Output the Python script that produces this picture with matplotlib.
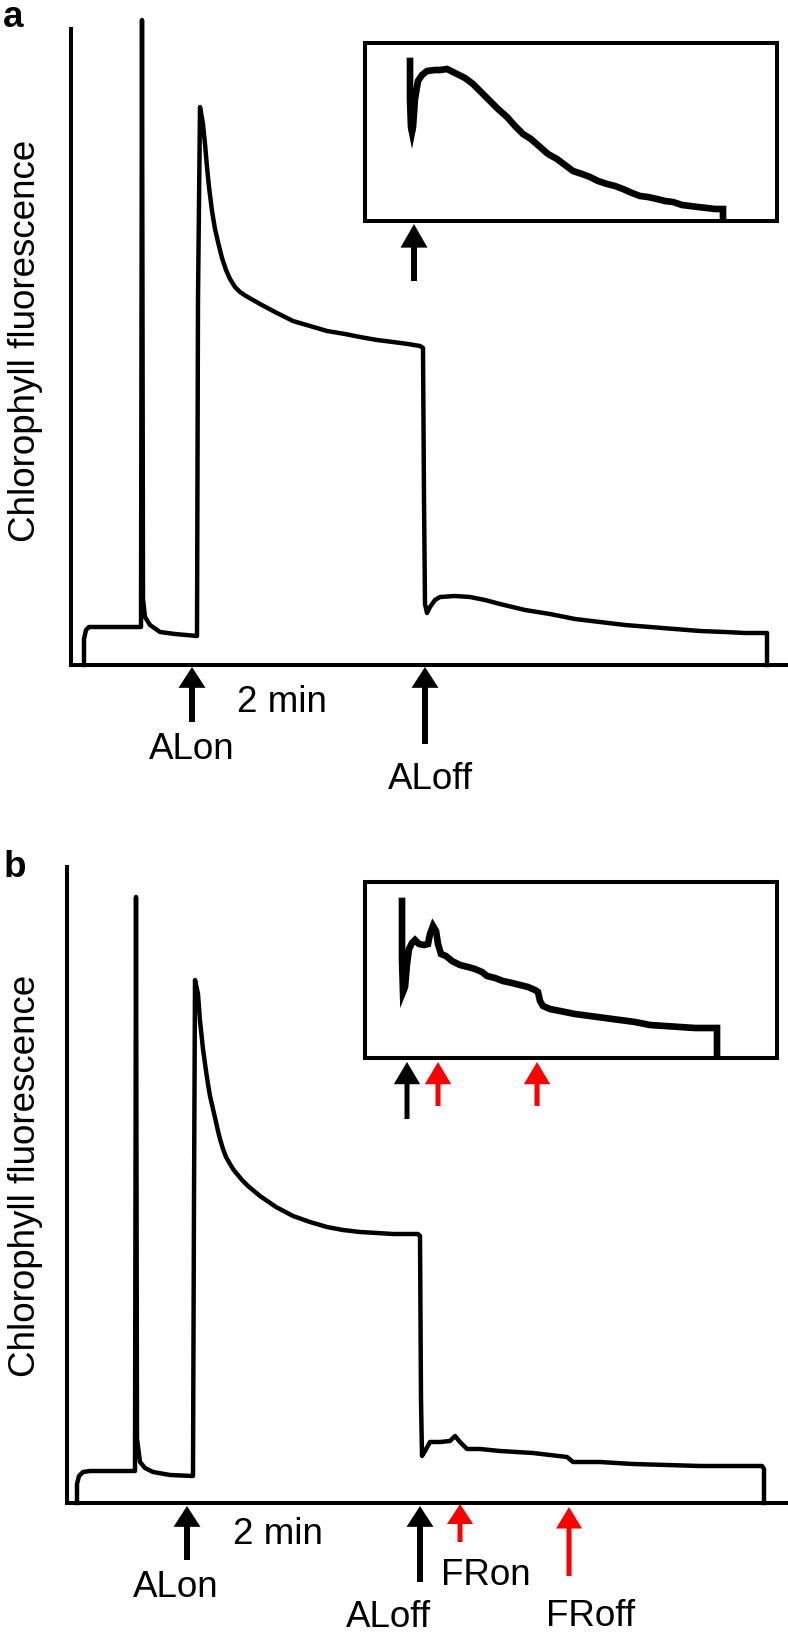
import matplotlib
matplotlib.use("Agg")
import matplotlib.pyplot as plt

plt.rcParams['font.family'] = ['Liberation Sans', 'DejaVu Sans']

# ---------------- data (time in s, fluorescence in a.u.) ----------------
# Panel a, main trace
ta = [13, 13, 15, 18, 70, 71, 72, 74, 79, 89, 104, 126, 127, 129, 132, 134, 136, 138, 141,
      144, 147, 151, 155, 159, 164, 169, 175, 182, 189, 204, 222, 239, 256, 274, 289, 306,
      322, 337, 349, 352, 353, 354, 356, 359, 364, 369, 384, 399, 414, 429, 454, 479, 504,
      529, 554, 579, 604, 629, 654, 674, 696, 696]
fa = [0, 26, 35, 38, 38, 645, 66, 48, 40, 33, 31, 29, 366, 558, 541, 521, 498, 478, 454,
      436, 423, 407, 395, 386, 378, 373, 369, 365, 361, 353, 344, 339, 334, 331, 328, 325,
      323, 321, 319, 317, 166, 61, 52, 58, 65, 68, 69, 68, 65, 61, 55, 51, 46,
      43, 40, 38, 36, 34, 33, 32, 32, 0]

# Panel a, inset trace (post-illumination rise)
ta_in = [45, 45, 46, 47, 48, 50, 53, 57, 62, 70, 75, 82, 92, 100, 108, 115, 125, 133, 142,
         150, 158, 166, 175, 183, 192, 200, 208, 217, 225, 233, 242, 250, 258, 267, 275,
         283, 292, 300, 308, 317, 325, 333, 342, 350, 358, 358]
fa_in = [160, 122, 94, 89, 94, 122, 140, 146, 150, 151, 151, 152, 147, 143, 137, 130, 120,
         112, 104, 95, 87, 82, 74, 67, 62, 56, 50, 47, 44, 40, 37, 35, 32, 28, 25, 24, 22,
         20, 19, 16, 15, 14, 13, 12, 12, 5]

# Panel b, main trace
tb = [10, 10, 12, 16, 23, 68, 69, 70, 73, 78, 86, 103, 126, 127, 128, 131, 133, 136, 139,
      141, 143, 146, 149, 151, 153, 156, 159, 163, 166, 170, 175, 181, 193, 209, 226, 243,
      260, 276, 293, 310, 326, 351, 353, 354, 355, 358, 363, 373, 383, 388, 393, 400, 413,
      433, 466, 500, 506, 533, 566, 600, 633, 666, 695, 697, 697]
fb = [0, 19, 27, 31, 32, 32, 606, 64, 41, 35, 31, 28, 27, 304, 523, 509, 482, 454, 432,
      419, 407, 394, 381, 372, 364, 354, 346, 339, 334, 329, 323, 317, 307, 296, 287, 281,
      276, 273, 271, 270, 269, 269, 267, 104, 47, 52, 61, 61, 62, 67, 61, 54, 54,
      52, 50, 46, 41, 41, 39, 38, 37, 37, 37, 34, 0]

# Panel b, inset trace
tb_in = [37, 37, 38, 40, 42, 44, 47, 50, 54, 59, 63, 65, 68, 71, 73, 76, 81, 87, 95, 103,
         110, 117, 122, 130, 138, 147, 155, 163, 170, 173, 175, 178, 185, 195, 210, 225,
         240, 255, 270, 285, 300, 315, 330, 345, 352, 352]
fb_in = [157, 99, 66, 71, 94, 109, 115, 118, 114, 113, 114, 124, 132, 127, 114, 104, 102,
         97, 93, 91, 89, 86, 82, 80, 77, 75, 73, 71, 68, 66, 57, 52, 49, 47, 44, 42, 40,
         38, 36, 33, 32, 31, 30, 30, 30, 2]

# Event markers (times of light switching)
events_a = {"ALon": 121, "ALoff": 354}
events_b = {"ALon": 120, "ALoff": 353, "FRon": 393, "FRoff": 502}
inset_events_a = [49]
inset_events_b = [42, 73, 172]
scale_label = "2 min"
ylabel = "Chlorophyll fluorescence"

# ---------------- figure ----------------
W, H = 788, 1633
fig = plt.figure(figsize=(W / 100, H / 100), dpi=100)

FS = 26.5
LW = 2.9
TLW = 3.2
black = "black"
red = "#ff0000"


def fx(px):
    return px / W


def fy(py):
    return 1 - py / H


def style_main(ax, xmax):
    ax.set_xlim(0, xmax)
    ax.set_ylim(0, 636)
    for s in ("top", "right"):
        ax.spines[s].set_visible(False)
    for s in ("left", "bottom"):
        ax.spines[s].set_linewidth(LW)
        ax.spines[s].set_capstyle("projecting")
    ax.set_xticks([])
    ax.set_yticks([])
    ax.patch.set_alpha(0)


def style_inset(ax, ymax):
    ax.set_xlim(0, 412)
    ax.set_ylim(0, ymax)
    for s in ax.spines.values():
        s.set_linewidth(LW)
        s.set_capstyle("projecting")
    ax.set_xticks([])
    ax.set_yticks([])


def arrow(ax, t, tip, tail, color, w=4.3, hw=19.4, hl=15.0):
    ax.annotate("", xy=(t, tip), xytext=(t, tail), xycoords="data",
                arrowprops=dict(facecolor=color, edgecolor="none", width=w,
                                headwidth=hw, headlength=hl, shrink=0),
                annotation_clip=False)


def label(ax, t, y, s, ha="center"):
    ax.text(t, y, s, fontsize=FS, ha=ha, va="center", clip_on=False)


# ---- Panel a ----
axa = fig.add_axes([fx(71), fy(666), fx(717), 636 / H])
style_main(axa, 717)
axa.plot(ta, fa, color=black, lw=TLW, clip_on=False, solid_joinstyle="round")
arrow(axa, events_a["ALon"], -2, -57, black)
arrow(axa, events_a["ALoff"], -2, -79, black)
label(axa, 121, -84, "ALon")
label(axa, 359, -114, "ALoff")
label(axa, 166, -37, scale_label, ha="left")

axa_in = fig.add_axes([fx(365), fy(222), fx(412), 178 / H])
style_inset(axa_in, 178)
axa_in.plot(ta_in, fa_in, color=black, lw=4.8, clip_on=False, solid_joinstyle="miter")
arrow(axa_in, inset_events_a[0], -3, -60, black, w=4.3, hw=19.4, hl=17.0)

# ---- Panel b ----
axb = fig.add_axes([fx(67), fy(1504), fx(721), 636 / H])
style_main(axb, 721)
axb.plot(tb, fb, color=black, lw=TLW, clip_on=False, solid_joinstyle="round")
arrow(axb, events_b["ALon"], -3, -57, black)
arrow(axb, events_b["ALoff"], -3, -79, black)
arrow(axb, events_b["FRon"], -1, -39, red, w=3.6, hw=18.7, hl=14.4)
arrow(axb, events_b["FRoff"], -4, -73, red, w=3.6, hw=18.7, hl=15.5)
label(axb, 109, -84, "ALon")
label(axb, 321, -114, "ALoff")
label(axb, 419, -72, "FRon")
label(axb, 524, -113, "FRoff")
label(axb, 166, -31, scale_label, ha="left")

axb_in = fig.add_axes([fx(365), fy(1059), fx(412), 176 / H])
style_inset(axb_in, 176)
axb_in.plot(tb_in, fb_in, color=black, lw=4.8, clip_on=False, solid_joinstyle="miter")
arrow(axb_in, inset_events_b[0], -4, -61, black, w=3.6, hw=19.0, hl=16.0)
arrow(axb_in, inset_events_b[1], -4, -48, red, w=3.6, hw=19.0, hl=16.0)
arrow(axb_in, inset_events_b[2], -4, -48, red, w=3.6, hw=19.0, hl=16.0)

# ---- labels ----
fig.text(fx(26), fy(341), ylabel, rotation=90, fontsize=FS, ha="center", va="center")
fig.text(fx(26), fy(1176), ylabel, rotation=90, fontsize=FS, ha="center", va="center")
fig.text(fx(3), fy(27), "a", fontsize=FS, fontweight="bold", ha="left", va="baseline")
fig.text(fx(4), fy(877), "b", fontsize=FS, fontweight="bold", ha="left", va="baseline")

fig.savefig("out.png", dpi=100)
